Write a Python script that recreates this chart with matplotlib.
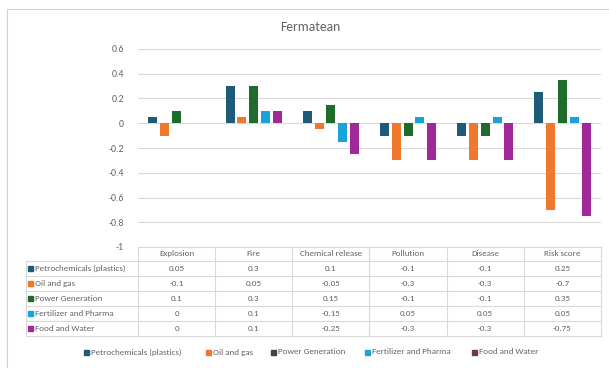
import numpy as np
import matplotlib.pyplot as plt
from matplotlib.patches import Rectangle
from matplotlib.lines import Line2D
from matplotlib.ticker import FuncFormatter, MultipleLocator
import matplotlib.transforms as mtransforms

# Data
categories = ["Explosion", "Fire", "Chemical release", "Pollution", "Disease", "Risk score"]
series = ["Petrochemicals (plastics)", "Oil and gas", "Power Generation",
          "Fertilizer and Pharma", "Food and Water"]
petrochemicals = [0.05, 0.3, 0.1, -0.1, -0.1, 0.25]
oil_gas = [-0.1, 0.05, -0.05, -0.3, -0.3, -0.7]
power = [0.1, 0.3, 0.15, -0.1, -0.1, 0.35]
fertilizer = [0, 0.1, -0.15, 0.05, 0.05, 0.05]
food_water = [0, 0.1, -0.25, -0.3, -0.3, -0.75]
values = [petrochemicals, oil_gas, power, fertilizer, food_water]

bar_colors = ["#1d5b79", "#f0782d", "#1e6b2b", "#1ba3d9", "#a0289b"]
legend_colors = ["#1d5b79", "#f0782d", "#404040", "#1ba3d9", "#6e3b4a"]
text_color = "#646464"
grid_color = "#d9d9d9"

plt.rcParams['font.family'] = ['Carlito', 'DejaVu Sans']

W, H = 609, 368
fig = plt.figure(figsize=(W / 100, H / 100), dpi=100)


def fx(x):
    return x / W


def fy(y):
    return 1 - y / H


# chart border (runs off the right and bottom edges)
fig.patches.append(Rectangle((fx(7), fy(380)), fx(610), 371 / H, transform=fig.transFigure,
                             fill=False, edgecolor="#d0d0d0", linewidth=0.8))

ax = fig.add_axes([fx(138), fy(247), fx(601) - fx(138), fy(49) - fy(247)])
x = np.arange(len(categories))
step, width = 0.153, 0.117
for i, (vals, c) in enumerate(zip(values, bar_colors)):
    ax.bar(x + (i - 2) * step, vals, width=width, color=c, zorder=3)

ax.set_xlim(-0.5, len(categories) - 0.5)
ax.set_ylim(-1, 0.6)
ax.yaxis.set_major_locator(MultipleLocator(0.2))
ax.yaxis.set_major_formatter(FuncFormatter(lambda v, p: "{:g}".format(round(v, 2))))
ax.grid(axis="y", color=grid_color, linewidth=0.8, zorder=0)
ax.tick_params(axis="y", length=0, pad=10, labelsize=7, labelcolor=text_color)
ax.set_xticks([])
for s in ax.spines.values():
    s.set_visible(False)

fig.text(fx(310), fy(27), "Fermatean", ha="center", va="center",
         fontsize=9.8, color=text_color)

# Data table below the plot
tr = mtransforms.blended_transform_factory(ax.transData, fig.transFigure)
header_top, row_top, row_h = 247, 261, 15
n_rows = len(series)
table_bottom = row_top + n_rows * row_h
line_kw = dict(color=grid_color, linewidth=0.8)
fs = 6.5

# horizontal lines
fig.add_artist(Line2D([fx(138), fx(601)], [fy(header_top)] * 2, **line_kw))
for r in range(n_rows + 1):
    yy = fy(row_top + r * row_h)
    fig.add_artist(Line2D([fx(26), fx(601)], [yy, yy], **line_kw))
# vertical lines
for k in range(len(categories) + 1):
    fig.add_artist(Line2D([k - 0.5, k - 0.5], [fy(header_top), fy(table_bottom)],
                          transform=tr, **line_kw))
fig.add_artist(Line2D([fx(26)] * 2, [fy(row_top), fy(table_bottom)], **line_kw))

for k, cat in enumerate(categories):
    fig.text(k, fy(253.5), cat, transform=tr, ha="center", va="center",
             fontsize=fs, color=text_color)
for r, (name, vals) in enumerate(zip(series, values)):
    yc = fy(row_top + r * row_h + row_h / 2)
    fig.patches.append(Rectangle((fx(28), yc - 2.5 / H), fx(5), 5 / H,
                                 transform=fig.transFigure, color=bar_colors[r]))
    fig.text(fx(35), yc, name, ha="left", va="center", fontsize=fs, color=text_color)
    for k, v in enumerate(vals):
        fig.text(k, yc, "{:g}".format(v), transform=tr, ha="center", va="center",
                 fontsize=fs, color=text_color)

# Legend
legend_x = [84, 206, 271, 365, 472]
for lx, name, c in zip(legend_x, series, legend_colors):
    fig.patches.append(Rectangle((fx(lx), fy(352) - 2.5 / H), fx(5), 5 / H,
                                 transform=fig.transFigure, color=c))
    fig.text(fx(lx + 7), fy(352), name, ha="left", va="center", fontsize=fs,
             color=text_color)

fig.savefig("out.png", dpi=100, facecolor="white")
